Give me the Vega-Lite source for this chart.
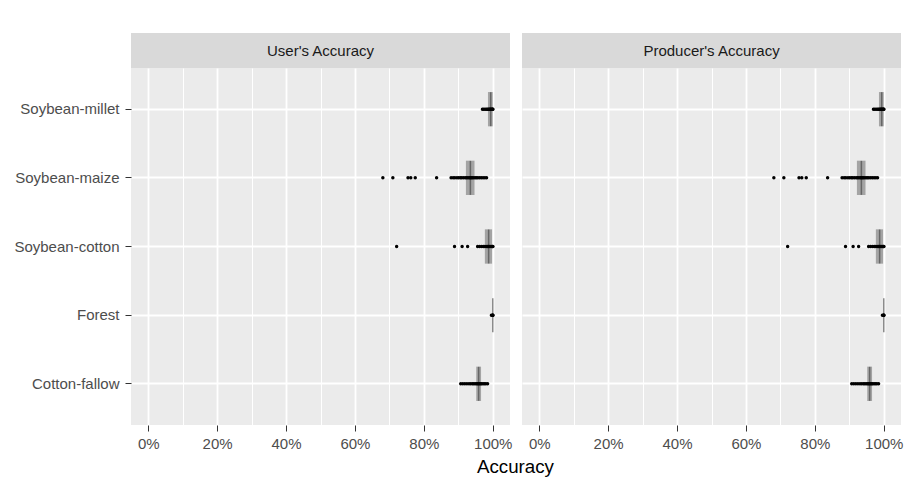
{
  "$schema": "https://vega.github.io/schema/vega-lite/v6.json",
  "padding": {"left": 13, "top": 33, "right": 5, "bottom": 2},
  "background": "white",
  "config": {
    "font": "Liberation Sans",
    "view": {"stroke": null},
    "axis": {"labelFont": "Liberation Sans", "titleFont": "Liberation Sans"}
  },
  "title": {"text": "Accuracy", "orient": "bottom", "anchor": "middle", "frame": "bounds", "dx": 57, "offset": 7, "font": "Liberation Sans", "fontSize": 18.75, "fontWeight": "normal", "color": "#000000"},
  "datasets": {
    "points": [
      {"class": "Soybean-millet", "acc": 97.0}, {"class": "Soybean-millet", "acc": 97.4}, {"class": "Soybean-millet", "acc": 97.8}, {"class": "Soybean-millet", "acc": 98.2}, {"class": "Soybean-millet", "acc": 98.5}, {"class": "Soybean-millet", "acc": 98.8}, {"class": "Soybean-millet", "acc": 99.0}, {"class": "Soybean-millet", "acc": 99.2}, {"class": "Soybean-millet", "acc": 99.4}, {"class": "Soybean-millet", "acc": 99.6}, {"class": "Soybean-millet", "acc": 99.8}, {"class": "Soybean-millet", "acc": 100}, {"class": "Soybean-millet", "acc": 100},
      {"class": "Soybean-maize", "acc": 68.1}, {"class": "Soybean-maize", "acc": 71.0}, {"class": "Soybean-maize", "acc": 75.4}, {"class": "Soybean-maize", "acc": 76.2}, {"class": "Soybean-maize", "acc": 77.5}, {"class": "Soybean-maize", "acc": 83.7}, {"class": "Soybean-maize", "acc": 87.9}, {"class": "Soybean-maize", "acc": 88.5}, {"class": "Soybean-maize", "acc": 89.0}, {"class": "Soybean-maize", "acc": 89.6}, {"class": "Soybean-maize", "acc": 90.1}, {"class": "Soybean-maize", "acc": 90.6}, {"class": "Soybean-maize", "acc": 91.0}, {"class": "Soybean-maize", "acc": 91.5}, {"class": "Soybean-maize", "acc": 92.0}, {"class": "Soybean-maize", "acc": 92.4}, {"class": "Soybean-maize", "acc": 92.8}, {"class": "Soybean-maize", "acc": 93.2}, {"class": "Soybean-maize", "acc": 93.5}, {"class": "Soybean-maize", "acc": 93.8}, {"class": "Soybean-maize", "acc": 94.1}, {"class": "Soybean-maize", "acc": 94.5}, {"class": "Soybean-maize", "acc": 94.9}, {"class": "Soybean-maize", "acc": 95.3}, {"class": "Soybean-maize", "acc": 95.7}, {"class": "Soybean-maize", "acc": 96.2}, {"class": "Soybean-maize", "acc": 96.7}, {"class": "Soybean-maize", "acc": 97.2}, {"class": "Soybean-maize", "acc": 97.7}, {"class": "Soybean-maize", "acc": 98.2},
      {"class": "Soybean-cotton", "acc": 72.1}, {"class": "Soybean-cotton", "acc": 88.9}, {"class": "Soybean-cotton", "acc": 91.1}, {"class": "Soybean-cotton", "acc": 92.7}, {"class": "Soybean-cotton", "acc": 95.6}, {"class": "Soybean-cotton", "acc": 96.2}, {"class": "Soybean-cotton", "acc": 96.8}, {"class": "Soybean-cotton", "acc": 97.3}, {"class": "Soybean-cotton", "acc": 97.7}, {"class": "Soybean-cotton", "acc": 98.1}, {"class": "Soybean-cotton", "acc": 98.5}, {"class": "Soybean-cotton", "acc": 98.8}, {"class": "Soybean-cotton", "acc": 99.1}, {"class": "Soybean-cotton", "acc": 99.4}, {"class": "Soybean-cotton", "acc": 99.7}, {"class": "Soybean-cotton", "acc": 100}, {"class": "Soybean-cotton", "acc": 100},
      {"class": "Forest", "acc": 99.6}, {"class": "Forest", "acc": 100}, {"class": "Forest", "acc": 100}, {"class": "Forest", "acc": 100},
      {"class": "Cotton-fallow", "acc": 90.7}, {"class": "Cotton-fallow", "acc": 91.3}, {"class": "Cotton-fallow", "acc": 91.9}, {"class": "Cotton-fallow", "acc": 92.5}, {"class": "Cotton-fallow", "acc": 93.1}, {"class": "Cotton-fallow", "acc": 93.6}, {"class": "Cotton-fallow", "acc": 94.1}, {"class": "Cotton-fallow", "acc": 94.5}, {"class": "Cotton-fallow", "acc": 94.9}, {"class": "Cotton-fallow", "acc": 95.3}, {"class": "Cotton-fallow", "acc": 95.6}, {"class": "Cotton-fallow", "acc": 95.9}, {"class": "Cotton-fallow", "acc": 96.2}, {"class": "Cotton-fallow", "acc": 96.5}, {"class": "Cotton-fallow", "acc": 96.8}, {"class": "Cotton-fallow", "acc": 97.2}, {"class": "Cotton-fallow", "acc": 97.6}, {"class": "Cotton-fallow", "acc": 98.0}, {"class": "Cotton-fallow", "acc": 98.5}
    ],
    "boxes": [
      {"class": "Soybean-millet", "q1": 98.6, "median": 99.4, "q3": 100},
      {"class": "Soybean-maize", "q1": 92.2, "median": 93.5, "q3": 94.7},
      {"class": "Soybean-cotton", "q1": 97.7, "median": 98.8, "q3": 99.8},
      {"class": "Forest", "q1": 100, "median": 100, "q3": 100},
      {"class": "Cotton-fallow", "q1": 95.2, "median": 95.9, "q3": 96.6}
    ]
  },
  "spacing": 10,
  "hconcat": [
    {
      "spacing": 0,
      "vconcat": [
        {
          "width": 379, "height": 35,
          "view": {"fill": "#D9D9D9", "stroke": null},
          "data": {"values": [{"panel": "User's Accuracy"}]},
          "mark": {"type": "text", "font": "Liberation Sans", "fontSize": 15, "color": "#1A1A1A"},
          "encoding": {"text": {"field": "panel"}}
        },
        {
          "width": 379, "height": 357,
          "view": {"fill": "#EBEBEB", "stroke": null},
          "resolve": {"axis": {"x": "independent"}},
          "encoding": {
            "y": {"field": "class", "type": "nominal",
              "scale": {"type": "band", "domain": ["Soybean-millet", "Soybean-maize", "Soybean-cotton", "Forest", "Cotton-fallow"], "paddingInner": 0, "paddingOuter": 0.1},
              "axis": {"title": null, "bandPosition": 0.5, "domain": false, "labelFontSize": 15, "labelColor": "#4D4D4D", "tickColor": "#333333", "tickSize": 6, "tickWidth": 1, "labelPadding": 6, "grid": true, "gridColor": "#FFFFFF", "gridWidth": 1.8}}
          },
          "layer": [
            {
              "data": {"name": "boxes"},
              "mark": {"type": "bar", "color": "#000000", "opacity": 0.3, "height": {"band": 0.5}},
              "encoding": {
                "x": {"field": "q1", "type": "quantitative",
                  "scale": {"domain": [-5, 105], "nice": false, "zero": false},
                  "axis": {"orient": "top", "values": [10, 30, 50, 70, 90], "labels": false, "ticks": false, "domain": false, "grid": true, "gridColor": "#FFFFFF", "gridWidth": 1, "title": null}},
                "x2": {"field": "q3"}
              }
            },
            {
              "data": {"name": "boxes"},
              "mark": {"type": "tick", "orient": "vertical", "color": "#333333", "opacity": 0.55, "size": 34, "thickness": 1.5},
              "encoding": {"x": {"field": "median", "type": "quantitative",
                  "axis": {"orient": "bottom", "values": [0, 20, 40, 60, 80, 100],
                    "labelExpr": "datum.value + '%'",
                    "domain": false, "labelFontSize": 15, "labelColor": "#4D4D4D", "labelPadding": 5,
                    "tickColor": "#333333", "tickSize": 6, "tickWidth": 1,
                    "grid": true, "gridColor": "#FFFFFF", "gridWidth": 1.8, "title": null}}}
            },
            {
              "data": {"name": "points"},
              "mark": {"type": "circle", "color": "#000000", "opacity": 1, "size": 12},
              "encoding": {"x": {"field": "acc", "type": "quantitative", "axis": null}}
            }
          ]
        }
      ]
    },
    {
      "spacing": 0,
      "vconcat": [
        {
          "width": 379, "height": 35,
          "view": {"fill": "#D9D9D9", "stroke": null},
          "data": {"values": [{"panel": "Producer's Accuracy"}]},
          "mark": {"type": "text", "font": "Liberation Sans", "fontSize": 15, "color": "#1A1A1A"},
          "encoding": {"text": {"field": "panel"}}
        },
        {
          "width": 379, "height": 357,
          "view": {"fill": "#EBEBEB", "stroke": null},
          "resolve": {"axis": {"x": "independent"}},
          "encoding": {
            "y": {"field": "class", "type": "nominal",
              "scale": {"type": "band", "domain": ["Soybean-millet", "Soybean-maize", "Soybean-cotton", "Forest", "Cotton-fallow"], "paddingInner": 0, "paddingOuter": 0.1},
              "axis": {"title": null, "bandPosition": 0.5, "domain": false, "labels": false, "ticks": false, "grid": true, "gridColor": "#FFFFFF", "gridWidth": 1.8}}
          },
          "layer": [
            {
              "data": {"name": "boxes"},
              "mark": {"type": "bar", "color": "#000000", "opacity": 0.3, "height": {"band": 0.5}},
              "encoding": {
                "x": {"field": "q1", "type": "quantitative",
                  "scale": {"domain": [-5, 105], "nice": false, "zero": false},
                  "axis": {"orient": "top", "values": [10, 30, 50, 70, 90], "labels": false, "ticks": false, "domain": false, "grid": true, "gridColor": "#FFFFFF", "gridWidth": 1, "title": null}},
                "x2": {"field": "q3"}
              }
            },
            {
              "data": {"name": "boxes"},
              "mark": {"type": "tick", "orient": "vertical", "color": "#333333", "opacity": 0.55, "size": 34, "thickness": 1.5},
              "encoding": {"x": {"field": "median", "type": "quantitative",
                  "axis": {"orient": "bottom", "values": [0, 20, 40, 60, 80, 100],
                    "labelExpr": "datum.value + '%'",
                    "domain": false, "labelFontSize": 15, "labelColor": "#4D4D4D", "labelPadding": 5,
                    "tickColor": "#333333", "tickSize": 6, "tickWidth": 1,
                    "grid": true, "gridColor": "#FFFFFF", "gridWidth": 1.8, "title": null}}}
            },
            {
              "data": {"name": "points"},
              "mark": {"type": "circle", "color": "#000000", "opacity": 1, "size": 12},
              "encoding": {"x": {"field": "acc", "type": "quantitative", "axis": null}}
            }
          ]
        }
      ]
    }
  ]
}
